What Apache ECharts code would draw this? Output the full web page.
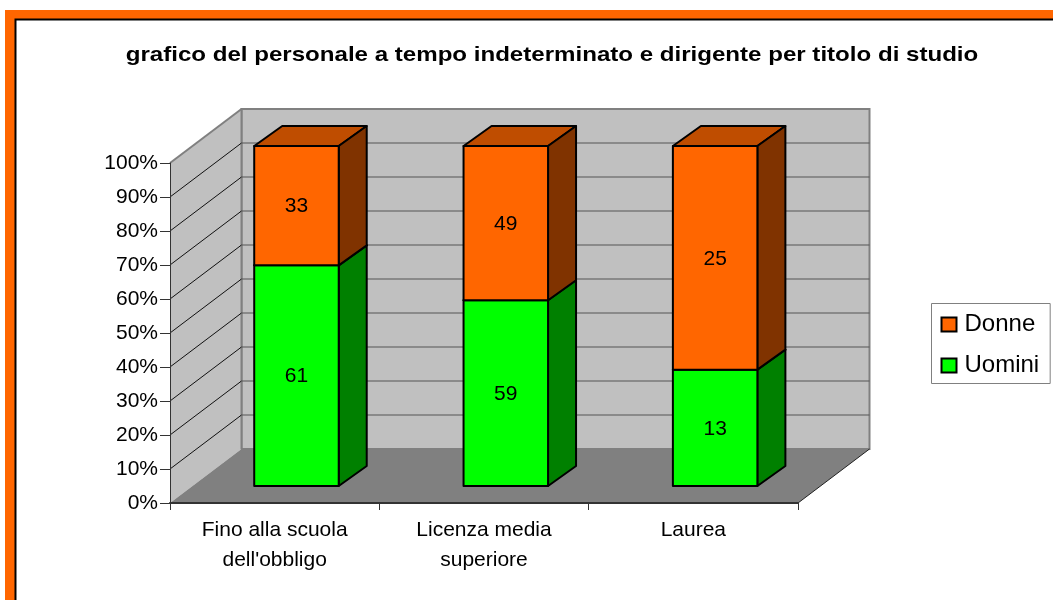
<!DOCTYPE html>
<html><head><meta charset="utf-8">
<style>html,body{margin:0;padding:0;background:#fff}#c{width:1053px;height:600px}</style>
<script src="https://cdn.jsdelivr.net/npm/echarts@6/dist/echarts.min.js"></script>
</head><body><div id="c"></div>
<script>
var titleText = "grafico del personale a tempo indeterminato e dirigente per titolo di studio";
var categories = ["Fino alla scuola\ndell'obbligo", "Licenza media\nsuperiore", "Laurea"];
var uomini = [61, 59, 13];
var donne = [33, 49, 25];
var yTicks = [10, 20, 30, 40, 50, 60, 70, 80, 90];

var FONT = '"Liberation Sans", Arial, sans-serif';
var WALL = {dx: 71.5, dy: -54};
var BAR = {dx: 21.8, dy: -17, w: 84.5, ddx: 28, ddy: -20};

var chart = echarts.init(document.getElementById('c'), null, {renderer: 'canvas'});

function wallsItem(params, api) {
  var cs = params.coordSys;
  var l = cs.x, r = cs.x + cs.width, t = cs.y, b = cs.y + cs.height;
  var d = WALL;
  function poly(pts, fill, stroke, lw) {
    return {type: 'polygon', shape: {points: pts},
      style: {fill: fill, stroke: stroke || null, lineWidth: lw || 0}};
  }
  return {type: 'group', children: [
    poly([[l + d.dx, t + d.dy], [r + d.dx, t + d.dy], [r + d.dx, b + d.dy], [l + d.dx, b + d.dy]], '#c0c0c0', '#808080', 2),
    poly([[l, t], [l + d.dx, t + d.dy], [l + d.dx, b + d.dy], [l, b]], '#c0c0c0'),
    {type: 'line', shape: {x1: l, y1: t, x2: l + d.dx, y2: t + d.dy}, style: {stroke: '#808080', lineWidth: 2}},
    {type: 'line', shape: {x1: l + d.dx, y1: t + d.dy, x2: l + d.dx, y2: b + d.dy}, style: {stroke: '#808080', lineWidth: 2}},
    poly([[l, b], [l + d.dx, b + d.dy], [r + d.dx, b + d.dy], [r, b]], '#808080'),
    {type: 'line', shape: {x1: r, y1: b, x2: r + d.dx, y2: b + d.dy}, style: {stroke: '#222', lineWidth: 1}}
  ]};
}
function gridItem(params, api) {
  var cs = params.coordSys;
  var y = api.coord([0, api.value(0)])[1];
  var l = cs.x, r = cs.x + cs.width, d = WALL;
  return {type: 'group', children: [
    {type: 'line', shape: {x1: l, y1: y, x2: l + d.dx, y2: y + d.dy}, style: {stroke: '#111', lineWidth: 1}},
    {type: 'line', shape: {x1: l + d.dx, y1: y + d.dy, x2: r + d.dx, y2: y + d.dy}, style: {stroke: '#555', lineWidth: 1.2}}
  ]};
}
function barRenderer(front, side, top) {
  return function (params, api) {
    var cat = api.value(0), lo = api.value(1), hi = api.value(2), raw = api.value(3);
    var p0 = api.coord([cat, lo]), p1 = api.coord([cat, hi]);
    var x0 = p0[0] + BAR.dx - BAR.w / 2, x1 = x0 + BAR.w;
    var yb = p0[1] + BAR.dy, yt = p1[1] + BAR.dy;
    function s(fill) { return {fill: fill, stroke: '#000', lineWidth: 2, lineJoin: 'round'}; }
    return {type: 'group', children: [
      {type: 'polygon', shape: {points: [[x0, yt], [x0 + BAR.ddx, yt + BAR.ddy], [x1 + BAR.ddx, yt + BAR.ddy], [x1, yt]]}, style: s(top)},
      {type: 'polygon', shape: {points: [[x1, yt], [x1 + BAR.ddx, yt + BAR.ddy], [x1 + BAR.ddx, yb + BAR.ddy], [x1, yb]]}, style: s(side)},
      {type: 'rect', shape: {x: x0, y: yt, width: BAR.w, height: yb - yt}, style: s(front)},
      {type: 'text', x: (x0 + x1) / 2, y: (yt + yb) / 2 + 1,
        style: {text: String(raw), fill: '#000', font: '21px ' + FONT, textAlign: 'center', textVerticalAlign: 'middle'}}
    ]};
  };
}
var dataU = [], dataD = [];
categories.forEach(function (c, i) {
  var tot = uomini[i] + donne[i], split = uomini[i] / tot * 100;
  dataU.push([i, 0, split, uomini[i]]);
  dataD.push([i, split, 100, donne[i]]);
});

chart.setOption({
  animation: false,
  backgroundColor: '#fff',
  graphic: {elements: [
    {type: 'rect', z: -10, silent: true, shape: {x: 5, y: 10, width: 1048, height: 590}, style: {fill: '#ff6600'}},
    {type: 'rect', z: -9, silent: true, shape: {x: 14.5, y: 18.5, width: 1038.5, height: 581.5}, style: {fill: '#000'}},
    {type: 'rect', z: -8, silent: true, shape: {x: 16.5, y: 20.5, width: 1036.5, height: 579.5}, style: {fill: '#fff'}},
    {type: 'text', z: 20, silent: true, x: 552, y: 55, scaleX: 1.147, originX: 0, originY: 0,
      style: {text: titleText, fill: '#000', font: 'bold 21px ' + FONT, textAlign: 'center', textVerticalAlign: 'middle'}}
  ]},
  legend: {
    data: ['Donne', 'Uomini'], orient: 'vertical', left: 931.5, top: 303.5, icon: 'rect',
    backgroundColor: '#fff', borderColor: '#808080', borderWidth: 1, borderRadius: 0,
    padding: [9, 11, 6, 9], itemWidth: 15, itemHeight: 14, itemGap: 17, selectedMode: false,
    textStyle: {fontFamily: FONT, fontSize: 24, color: '#000', padding: [0, 0, 0, 3]}
  },
  grid: {left: 170, right: 255, top: 163, bottom: 97, containLabel: false},
  xAxis: {type: 'category', data: categories, boundaryGap: true, z: 10,
    axisLine: {lineStyle: {color: '#333', width: 2}},
    axisTick: {show: true, alignWithLabel: false, length: 7, lineStyle: {color: '#333', width: 1}},
    axisLabel: {interval: 0, margin: 12, lineHeight: 30,
      fontFamily: FONT, fontSize: 21, color: '#000'}},
  yAxis: {type: 'value', min: 0, max: 100, interval: 10, z: 10,
    splitLine: {show: false},
    axisLine: {show: true, lineStyle: {color: '#333', width: 1}},
    axisTick: {show: true, length: 10, lineStyle: {color: '#333', width: 1}},
    axisLabel: {formatter: '{value}%', margin: 12, padding: [2, 0, 0, 0], fontFamily: FONT, fontSize: 21, color: '#000'}},
  series: [
    {type: 'custom', name: 'walls', z: 1, silent: true, data: [[0]], renderItem: wallsItem, encode: {y: 0}, clip: false},
    {type: 'custom', name: 'gridlines', z: 2, silent: true, data: yTicks.map(function (v) { return [v]; }), renderItem: gridItem, encode: {y: 0}, clip: false},
    {type: 'custom', name: 'Uomini', z: 3, data: dataU, renderItem: barRenderer('#00ff00', '#008000', '#00bf00'),
      encode: {x: 0, y: [1, 2]}, itemStyle: {color: '#00ff00', borderColor: '#000', borderWidth: 2}, clip: false},
    {type: 'custom', name: 'Donne', z: 4, data: dataD, renderItem: barRenderer('#ff6600', '#803300', '#bf4d00'),
      encode: {x: 0, y: [1, 2]}, itemStyle: {color: '#ff6600', borderColor: '#000', borderWidth: 2}, clip: false}
  ]
});
</script></body></html>
